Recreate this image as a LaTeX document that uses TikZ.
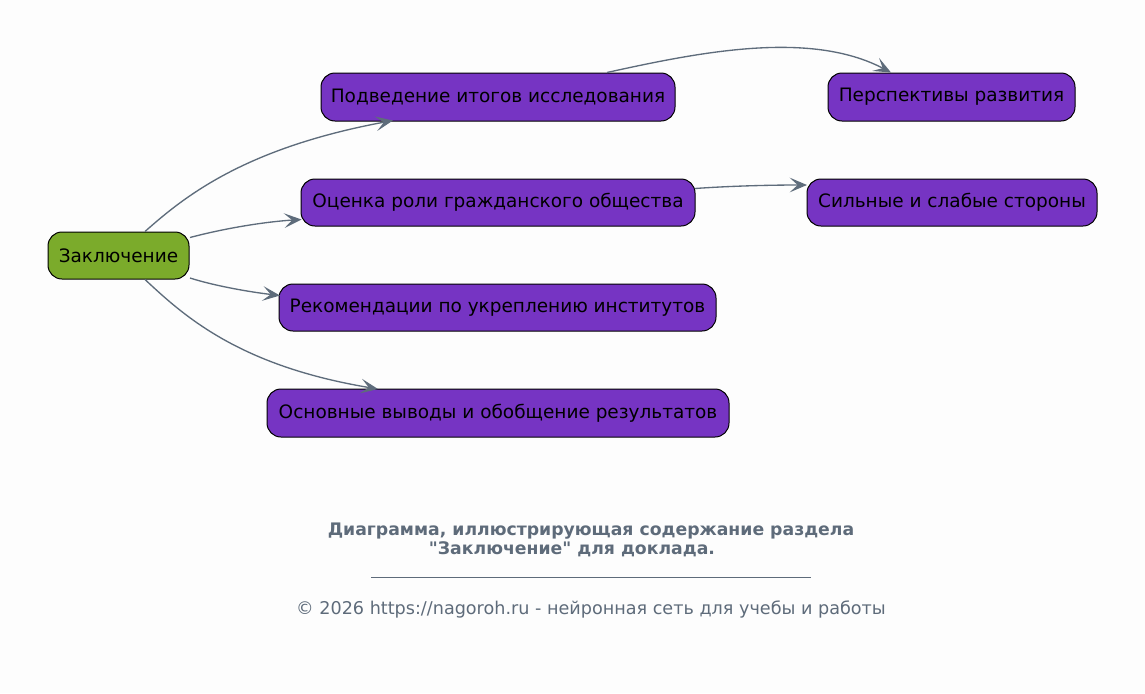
\documentclass[tikz,border=0pt]{standalone}
\usepackage{fontspec}
\setmainfont{DejaVu Sans}[Ligatures=TeXOff]
\usetikzlibrary{arrows.meta}
\definecolor{bg}{HTML}{FDFDFD}
\definecolor{purp}{HTML}{7634C3}
\definecolor{grn}{HTML}{7BAB2B}
\definecolor{edgec}{HTML}{5E6C7B}
\definecolor{capc}{HTML}{5E6B7A}
\tikzset{
  box/.style={draw=black, line width=0.75pt, rounded corners=10.5pt, fill=purp,
    inner sep=0pt, font=\fontsize{13.85}{16}\selectfont, text=black},
  rootbox/.style={box, fill=grn},
  conn/.style={draw=edgec, line width=1pt, -{Stealth[length=13pt, width=11pt, inset=6pt]}},
}
\begin{document}
\begin{tikzpicture}[x=0.75pt, y=-0.75pt]
\fill[bg] (0,0) rectangle (1145,693);
\useasboundingbox (0,0) rectangle (1145,693);

\node[rootbox, minimum width=105.75pt, minimum height=35.25pt] (root) at (118.5,255.5) {Заключение};
\node[box, minimum width=265.5pt, minimum height=36pt] (a) at (498,97) {Подведение итогов исследования};
\node[box, minimum width=295.5pt, minimum height=35.25pt] (b) at (498,202.5) {Оценка роли гражданского общества};
\node[box, minimum width=327.75pt, minimum height=35.25pt] (c) at (497.5,307.5) {Рекомендации по укреплению институтов};
\node[box, minimum width=346.5pt, minimum height=36pt] (d) at (498,413) {Основные выводы и обобщение результатов};
\node[box, minimum width=185.25pt, minimum height=36pt] (e) at (951.5,97) {Перспективы развития};
\node[box, minimum width=217.5pt, minimum height=35.25pt] (f) at (952,202.5) {Сильные и слабые стороны};

\coordinate (r1) at (145,231.5);
\coordinate (r2) at (190,237.5);
\coordinate (r3) at (190,278);
\coordinate (r4) at (145,279.5);
\coordinate (a1) at (393,120.5);
\coordinate (a2) at (607,72.5);
\coordinate (b1) at (301.5,219.5);
\coordinate (b2) at (695,188.5);
\coordinate (c1) at (280,295.5);
\coordinate (d1) at (378,389);
\coordinate (e1) at (891,72.5);
\coordinate (f1) at (807,185);

\draw[conn] (r1) .. controls (185,196) and (245,148) .. (a1);
\draw[conn] (r2) .. controls (222,229) and (262,222) .. (b1);
\draw[conn] (r3) .. controls (215,286) and (250,292) .. (c1);
\draw[conn] (r4) .. controls (185,317) and (240,366) .. (d1);
\draw[conn] (a2) .. controls (700,52) and (810,30) .. (e1);
\draw[conn] (b2) .. controls (730,186) and (770,185) .. (f1);

\node[text=capc, font=\bfseries\fontsize{12.95}{15}\selectfont] (cap1) at (591,531) {Диаграмма, иллюстрирующая содержание раздела};
\node[text=capc, font=\bfseries\fontsize{12.95}{15}\selectfont] (cap2) at (572,549) {"Заключение" для доклада.};
\draw[capc, line width=0.6pt] (371,577.5) -- (811,577.5);
\node[text=capc, font=\fontsize{13.2}{15}\selectfont] (foot) at (591,609) {© 2026 https://nagoroh.ru - нейронная сеть для учебы и работы};
\end{tikzpicture}
\end{document}
